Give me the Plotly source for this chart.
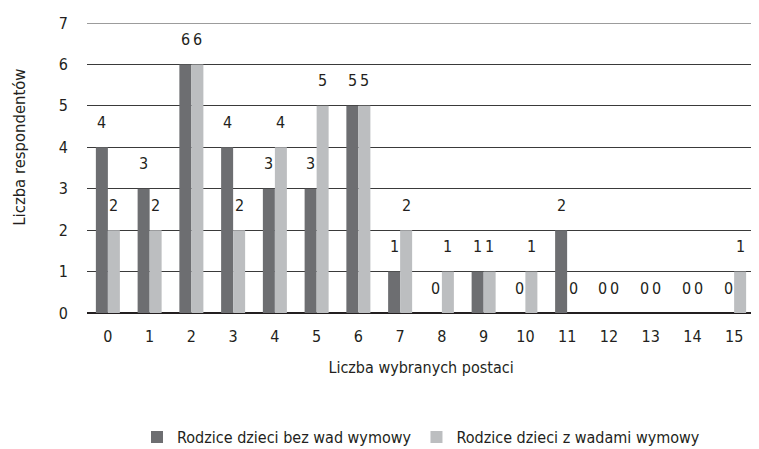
import plotly.graph_objects as go

categories = list(range(16))
bez_wad = [4, 3, 6, 4, 3, 3, 5, 1, 0, 1, 0, 2, 0, 0, 0, 0]
z_wadami = [2, 2, 6, 2, 4, 5, 5, 2, 1, 1, 1, 0, 0, 0, 0, 1]
y_ticks = list(range(8))

FONT = "DejaVu Sans Condensed, DejaVu Sans, sans-serif"
DARK = "#6d6e71"
LIGHT = "#bcbec0"
TXT = "#231f20"

fig = go.Figure()
fig.add_trace(go.Bar(x=categories, y=bez_wad, name="Rodzice dzieci bez wad wymowy",
                     marker=dict(color=DARK, line=dict(width=0))))
fig.add_trace(go.Bar(x=categories, y=z_wadami, name="Rodzice dzieci z wadami wymowy",
                     marker=dict(color=LIGHT, line=dict(width=0))))

off = 0.1435
for xs, vals, dx in [(categories, bez_wad, -off), (categories, z_wadami, off)]:
    for c, v in zip(xs, vals):
        fig.add_annotation(x=c + dx, y=v, text=str(v), showarrow=False,
                           yshift=25, yanchor="middle", xanchor="center",
                           font=dict(family=FONT, size=16, color=TXT))

# top gridline at y = 7
fig.add_shape(type="line", xref="paper", yref="y", x0=0, x1=1, y0=7, y1=7,
              line=dict(color="#3a3a3a", width=1), layer="below")

# y-axis title
fig.add_annotation(xref="paper", yref="paper", x=-0.101, y=0.572, text="Liczba respondentów",
                   textangle=-90, showarrow=False, xanchor="center", yanchor="middle",
                   font=dict(family=FONT, size=16.5, color=TXT))

fig.update_layout(
    width=751, height=441,
    margin=dict(l=79, r=4, t=15, b=136, autoexpand=False),
    paper_bgcolor="white", plot_bgcolor="white",
    barmode="group", bargap=0.425, bargroupgap=0,
    font=dict(family=FONT, size=16, color=TXT),
    showlegend=True,
    legend=dict(orientation="h", x=0.5, xanchor="center", y=-0.428, yanchor="middle",
                font=dict(family=FONT, size=16), itemwidth=30, traceorder="normal"),
    xaxis=dict(tickmode="array", tickvals=categories, ticktext=[str(c) for c in categories],
               range=[-0.5, 15.5], showgrid=False, ticks="", showline=False, zeroline=False,
               ticklabelstandoff=12,
               title=dict(text="Liczba wybranych postaci", standoff=16,
                          font=dict(family=FONT, size=16))),
    yaxis=dict(range=[0, 7], tickvals=y_ticks, showgrid=True, gridcolor="#3a3a3a", gridwidth=1,
               zeroline=True, zerolinecolor=TXT, zerolinewidth=1.5, ticks="",
               ticklabelstandoff=18),
)

fig.write_html("out.html")
